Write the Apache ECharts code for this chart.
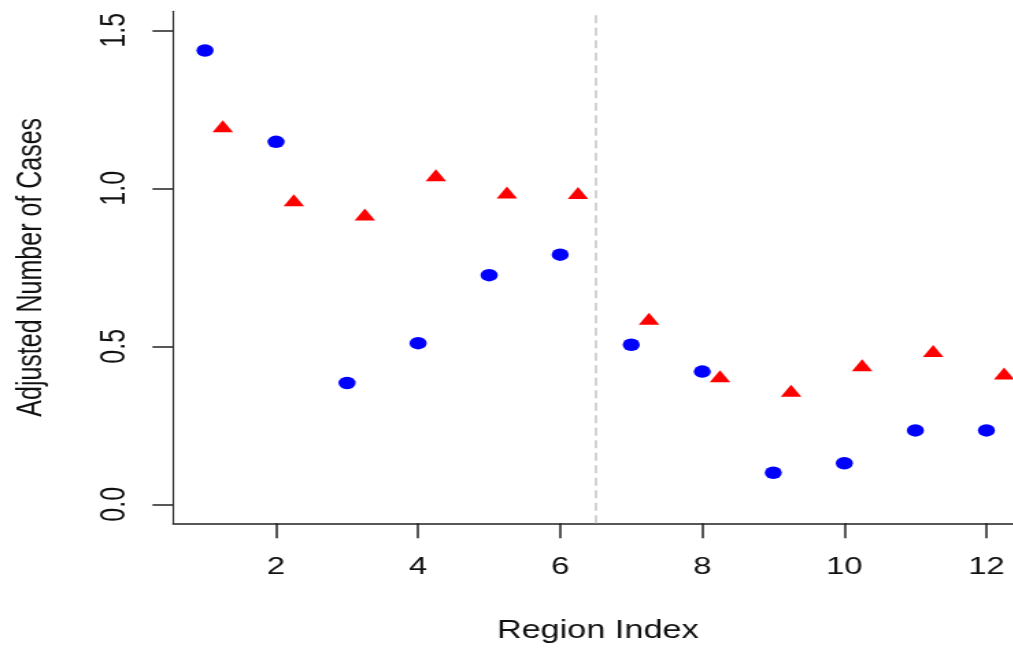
<!DOCTYPE html>
<html>
<head>
<meta charset="utf-8">
<script src="https://cdn.jsdelivr.net/npm/echarts@6/dist/echarts.min.js"></script>
<style>
  html, body { margin: 0; padding: 0; background: #fff; overflow: hidden; width: 1013px; height: 650px; }
  #wrap { width: 770px; height: 650px; transform: scaleX(1.37); transform-origin: 0 0; }
  #chart { width: 770px; height: 650px; }
</style>
</head>
<body>
<div id="wrap"><div id="chart"></div></div>
<script>
// Data
const blueX = [1, 2, 3, 4, 5, 6, 7, 8, 9, 10, 11, 12];
const blueY = [1.436, 1.147, 0.384, 0.510, 0.725, 0.790, 0.505, 0.420, 0.100, 0.130, 0.234, 0.234];
const redX = [1.25, 2.25, 3.25, 4.25, 5.25, 6.25, 7.25, 8.25, 9.25, 10.25, 11.25, 12.25];
const redY = [1.190, 0.956, 0.911, 1.035, 0.980, 0.979, 0.581, 0.399, 0.353, 0.434, 0.479, 0.408];
const xTicks = [2, 4, 6, 8, 10, 12];
const yTicks = [0, 0.5, 1.0, 1.5];
const splitX = 6.5;
const xTitle = 'Region Index';
const yTitle = 'Adjusted Number of Cases';

const font = 'Liberation Sans, Arial, sans-serif';
const axisCol = '#222';

const chart = echarts.init(document.getElementById('chart'), null, { renderer: 'canvas' });
chart.setOption({
  animation: false,
  backgroundColor: '#fff',
  grid: { left: 126.3, top: 11.3, width: 630, height: 512 },
  xAxis: {
    type: 'value',
    min: 0.55, max: 12.7,
    name: xTitle,
    nameLocation: 'middle',
    nameGap: 95,
    nameTextStyle: { fontFamily: font, fontSize: 25, color: '#111', padding: [0, 10, 0, 0] },
    axisLine: { show: true, onZero: false, lineStyle: { color: axisCol, width: 1.5 } },
    axisTick: { show: true, length: 15, customValues: xTicks, lineStyle: { color: axisCol, width: 1.5 } },
    axisLabel: { customValues: xTicks, margin: 32, fontFamily: font, fontSize: 24, color: '#111' },
    splitLine: { show: false }
  },
  yAxis: {
    type: 'value',
    min: -0.06, max: 1.56,
    name: yTitle,
    nameLocation: 'middle',
    nameGap: 91,
    nameTextStyle: { fontFamily: font, fontSize: 25, color: '#111' },
    axisLine: { show: true, onZero: false, lineStyle: { color: axisCol, width: 1.1 } },
    axisTick: { show: true, length: 15, customValues: yTicks, lineStyle: { color: axisCol, width: 1.5 } },
    axisLabel: { customValues: yTicks, rotate: 90, margin: 30, fontFamily: font, fontSize: 25, color: '#111',
      formatter: v => v.toFixed(1) },
    splitLine: { show: false }
  },
  series: [
    {
      type: 'scatter',
      data: blueX.map((x, i) => [x, blueY[i]]),
      symbol: 'circle',
      symbolSize: 12.5,
      itemStyle: { color: '#0000ff', opacity: 1 },
      markLine: {
        silent: true,
        symbol: ['none', 'none'],
        label: { show: false },
        lineStyle: { color: '#c4c4c4', width: 1.5, type: [8, 4.5] },
        data: [{ xAxis: splitX }]
      }
    },
    {
      type: 'scatter',
      data: redX.map((x, i) => [x, redY[i]]),
      symbol: 'triangle',
      symbolSize: [15, 12],
      symbolOffset: [0, -2],
      itemStyle: { color: '#ff0000', opacity: 1 }
    }
  ]
});
</script>
</body>
</html>
